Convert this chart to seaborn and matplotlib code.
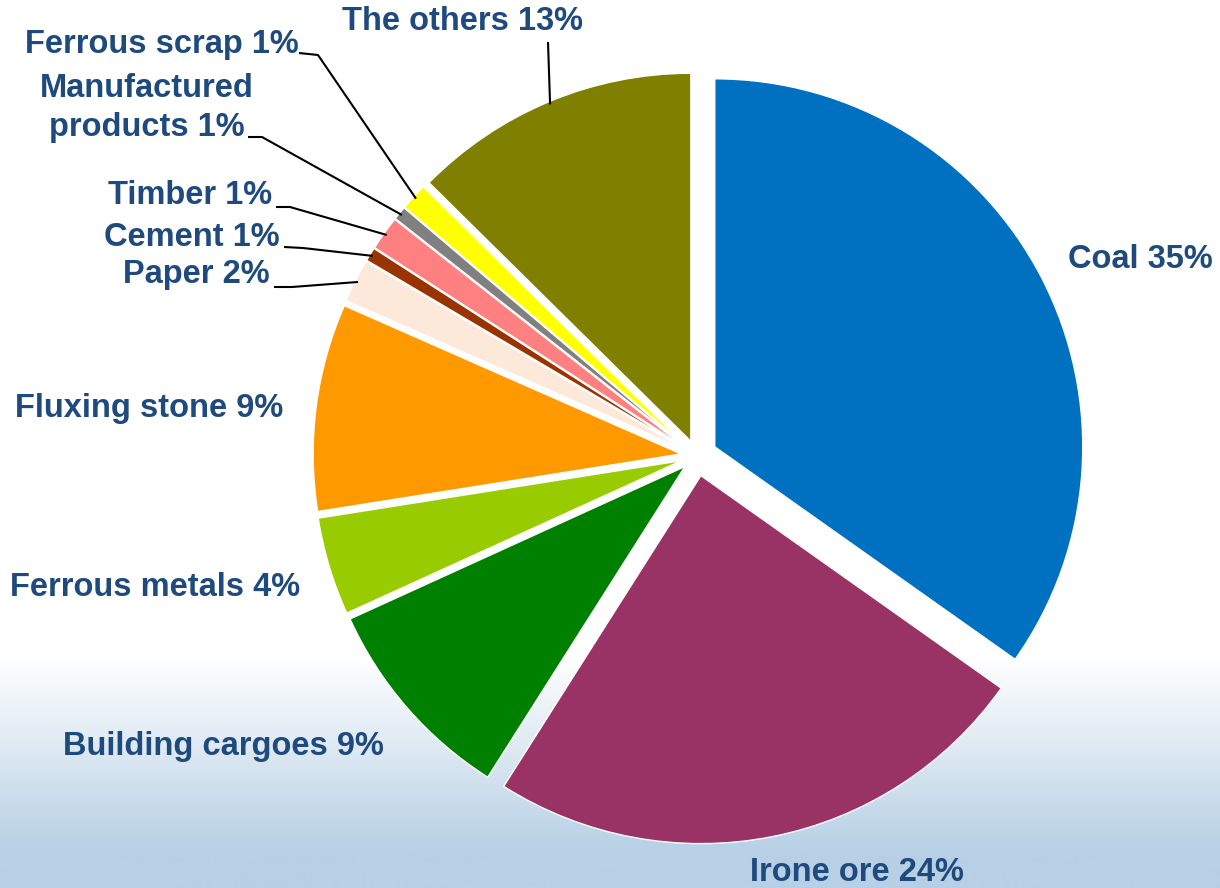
import numpy as np
import matplotlib
matplotlib.use('Agg')
import matplotlib.pyplot as plt
import seaborn as sns

# shares of cargo types (percent)
categories = ['Coal', 'Irone ore', 'Building cargoes', 'Ferrous metals', 'Fluxing stone',
              'Paper', 'Cement', 'Timber', 'Manufactured\nproducts', 'Ferrous scrap', 'The others']
shares = [34.8, 24.2, 9.2, 4.3, 9.1, 1.9, 0.6, 1.5, 0.6, 1.2, 12.6]
pct_labels = ['35%', '24%', '9%', '4%', '9%', '2%', '1%', '1%', '1%', '1%', '13%']
colors = ['#0070C0', '#993366', '#008000', '#99CC00', '#FF9900', '#FDE9D9',
          '#993300', '#FF8080', '#808080', '#FFFF00', '#808000']

sns.set_style('white')
plt.rcParams['font.family'] = ['Liberation Sans', 'DejaVu Sans']

# work in pixel units, origin bottom-left
W, H = 1220, 888
fig = plt.figure(figsize=(W / 100, H / 100), dpi=100)
ax = fig.add_axes([0, 0, 1, 1])

# background: white fading to a pale blue towards the bottom (row 0 = top)
rows = np.linspace(0, 1, H)
t = np.clip((rows - 0.74) / 0.22, 0, 1)[:, None]
top = np.array([1.0, 1.0, 1.0])
bottom = np.array([183, 208, 229]) / 255
grad = (1 - t) * top + t * bottom
ax.imshow(grad[:, None, :].repeat(2, axis=1), extent=(0, W, 0, H), aspect='auto', zorder=0)

cx, cy, R = 697, H - 456, 368
explode = [20, 20] + [16] * 9

wedges, _ = ax.pie(shares, colors=colors, startangle=90, counterclock=False,
                   explode=explode, center=(cx, cy), radius=R, frame=True,
                   wedgeprops=dict(edgecolor='white', linewidth=1))
for w in wedges:
    w.set_zorder(2)

# label layout in pixels from the top-left: (x, y, ha, leader start, leader elbow)
layout = {
    'Coal': (1068, 260, 'left', None, None),
    'Irone ore': (750, 872, 'left', None, None),
    'Building cargoes': (63, 746, 'left', None, None),
    'Ferrous metals': (10, 587, 'left', None, None),
    'Fluxing stone': (15, 409, 'left', None, None),
    'Paper': (270, 275, 'right', (274, 287), (292, 287)),
    'Cement': (280, 237, 'right', (284, 247), (303, 248)),
    'Timber': (272, 196, 'right', (276, 207), (290, 207)),
    'Manufactured\nproducts': (147, 108, 'center', (248, 137), (262, 137)),
    'Ferrous scrap': (25, 45, 'left', (299, 53), (318, 55)),
    'The others': (342, 22, 'left', (548, 42), (548, 42)),
}

txt_color = '#1F4A7E'
for w, cat, pct in zip(wedges, categories, pct_labels):
    x, y, ha, start, elbow = layout[cat]
    ax.text(x, H - y, f'{cat} {pct}', ha=ha, va='center', multialignment='center',
            fontsize=23.5, fontweight='bold', color=txt_color, zorder=4, linespacing=1.35)
    if start is not None:
        mid = np.deg2rad((w.theta1 + w.theta2) / 2)
        wx, wy = w.center
        ex = wx + (w.r - 3) * np.cos(mid)
        ey = wy + (w.r - 3) * np.sin(mid)
        ax.plot([start[0], elbow[0], ex], [H - start[1], H - elbow[1], ey],
                color='black', lw=1.5, zorder=3, solid_capstyle='butt')

ax.set_xlim(0, W)
ax.set_ylim(0, H)
ax.set_aspect('equal')
ax.axis('off')

fig.savefig('out.png', dpi=100)
